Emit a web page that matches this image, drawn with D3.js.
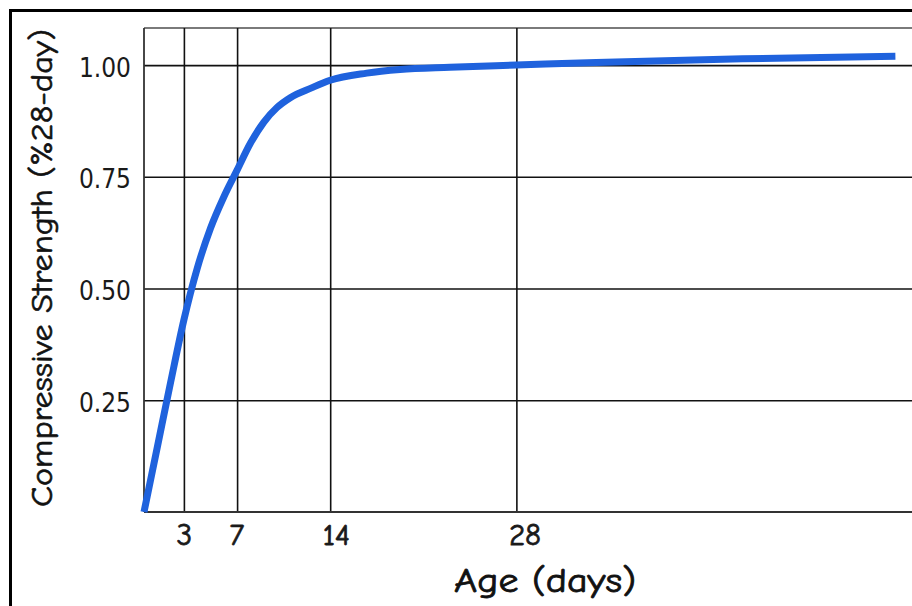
<!DOCTYPE html>
<html>
<head>
<meta charset="utf-8">
<script src="https://cdn.jsdelivr.net/npm/d3@7"></script>
<style>
  html, body { margin: 0; padding: 0; background: #fff; }
  svg { display: block; }
</style>
</head>
<body>
<svg id="chart" width="912" height="606"></svg>
<script>
// ---- data ----
const ageDays  = [0, 1, 2, 3, 4, 5, 6, 7, 8, 9, 10, 11, 12.6, 14, 16.75, 19.25, 23, 28, 34, 45, 56.5];
const strength = [0, 0.145, 0.29, 0.43, 0.545, 0.635, 0.705, 0.765, 0.825, 0.872, 0.905, 0.927, 0.949, 0.966, 0.982, 0.99, 0.995, 1.0, 1.006, 1.014, 1.02];
const xTickValues = [3, 7, 14, 28];
const yTickValues = [0.25, 0.50, 0.75, 1.00];
const xTitle = "Age (days)";
const yTitle = "Compressive Strength (%28-day)";

// ---- layout ----
const W = 912, H = 606;
const plot = { left: 144, top: 28, bottom: 512, right: 922 };
const comic = "'Comic Sans MS', 'Comic Neue', 'DejaVu Sans', sans-serif";

const svg = d3.select("#chart");
svg.append("rect").attr("width", W).attr("height", H).attr("fill", "#fff");

// outer frame (continues past the right and bottom edges)
svg.append("rect")
  .attr("x", 10.5).attr("y", 10.5)
  .attr("width", 1000).attr("height", 1000)
  .attr("fill", "none").attr("stroke", "#000").attr("stroke-width", 3);

const x = d3.scaleLinear().domain([0, 58.5]).range([plot.left, plot.right]);
const y = d3.scaleLinear().domain([0, 1.083]).range([plot.bottom, plot.top]);

// top border of plot (grey)
svg.append("line")
  .attr("x1", plot.left).attr("x2", plot.right)
  .attr("y1", plot.top).attr("y2", plot.top)
  .attr("stroke", "#7a7a7a").attr("stroke-width", 2);

// y axis with horizontal grid lines
const yAxis = svg.append("g")
  .attr("transform", `translate(${plot.left},0)`)
  .call(d3.axisLeft(y)
    .tickValues(yTickValues)
    .tickSize(-(plot.right - plot.left))
    .tickPadding(13)
    .tickFormat(d3.format(".2f")));
yAxis.select(".domain").remove();
yAxis.selectAll(".tick line").attr("stroke", "#111").attr("stroke-width", 1.6);
yAxis.selectAll(".tick text")
  .attr("font-family", "'DejaVu Sans Condensed', 'DejaVu Sans', sans-serif")
  .attr("font-size", 26)
  .attr("fill", "#1a1a1a")
  .attr("dy", "0.42em");

// x axis with vertical grid lines
const xAxis = svg.append("g")
  .attr("transform", `translate(0,${plot.bottom})`)
  .call(d3.axisBottom(x)
    .tickValues(xTickValues)
    .tickSize(-(plot.bottom - plot.top))
    .tickPadding(11));
xAxis.select(".domain").remove();
xAxis.selectAll(".tick line").attr("stroke", "#111").attr("stroke-width", 1.6);
xAxis.selectAll(".tick text")
  .attr("font-family", comic)
  .attr("font-size", 31)
  .attr("fill", "#1a1a1a")
  .attr("stroke", "#1a1a1a")
  .attr("stroke-width", 0.8)
  .attr("text-anchor", "start")
  .attr("dx", -8);

// left and bottom plot borders
svg.append("line")
  .attr("x1", plot.left).attr("x2", plot.left)
  .attr("y1", plot.top).attr("y2", plot.bottom)
  .attr("stroke", "#333").attr("stroke-width", 1.8);
svg.append("line")
  .attr("x1", plot.left).attr("x2", plot.right)
  .attr("y1", plot.bottom).attr("y2", plot.bottom)
  .attr("stroke", "#333").attr("stroke-width", 1.8);

// strength curve
const pts = ageDays.map((d, i) => [d, strength[i]]);
svg.append("path")
  .datum(pts)
  .attr("fill", "none")
  .attr("stroke", "#1f62dd")
  .attr("stroke-width", 7)
  .attr("stroke-linejoin", "round")
  .attr("d", d3.line().x(d => x(d[0])).y(d => y(d[1])).curve(d3.curveMonotoneX));

// axis titles
svg.append("text")
  .attr("x", 545).attr("y", 592)
  .attr("text-anchor", "middle")
  .attr("font-family", comic)
  .attr("font-size", 34)
  .attr("fill", "#111")
  .attr("stroke", "#111")
  .attr("stroke-width", 0.8)
  .attr("textLength", 182)
  .attr("lengthAdjust", "spacingAndGlyphs")
  .text(xTitle);

svg.append("text")
  .attr("transform", "translate(52,268) rotate(-90)")
  .attr("text-anchor", "middle")
  .attr("font-family", comic)
  .attr("font-size", 31)
  .attr("fill", "#111")
  .attr("stroke", "#111")
  .attr("stroke-width", 0.6)
  .attr("textLength", 478)
  .attr("lengthAdjust", "spacingAndGlyphs")
  .text(yTitle);
</script>
</body>
</html>
